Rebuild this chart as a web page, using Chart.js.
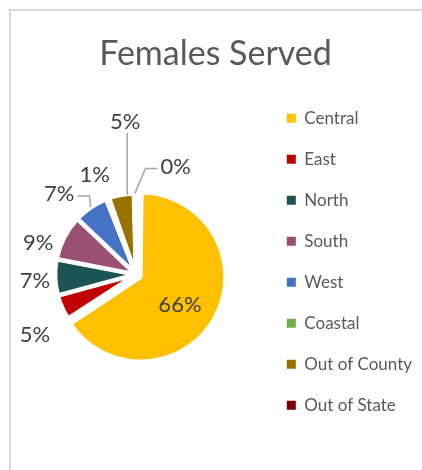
<!DOCTYPE html>
<html>
<head>
<meta charset="utf-8">
<script src="https://cdn.jsdelivr.net/npm/chart.js@4.4.1/dist/chart.umd.min.js"></script>
<style>
    body { margin: 0; background: #fff; }
    #wrap { position: relative; width: 422px; height: 470px; overflow: hidden; }
    #frame { position: absolute; left: 9px; top: 9px; width: 500px; height: 500px;
             border-top: 2px solid #d9d9d9; border-left: 2px solid #d9d9d9; }
    #females-served { position: absolute; left: 0; top: 0; }
</style>
</head>
<body>
<div id="wrap">
    <div id="frame"></div>
    <canvas id="females-served" width="422" height="470"></canvas>
</div>
<script>
// Share of females served by region (percent)
var regions = ['Central', 'East', 'North', 'South', 'West', 'Coastal', 'Out of County', 'Out of State'];
var shares = [65.8, 5.0, 7.2, 9.1, 6.9, 0.6, 5.0, 0.4];
var sliceColors = ['#ffc000', '#c00000', '#1a5454', '#9a5073', '#4472c4', '#70ad47', '#997300', '#7f0000'];

// label placement: nudge from the default spot just outside the slice, and leader side
var labelNudge = [[1, 7], [-7, 18], [2, 3], [-6, 16], [-19, 5], [-5, -3], [8, -51], [41, -5]];
var leaderSide = [null, null, null, null, 'right', null, 'bottom', 'left'];

var labelFont = '22px Lato';

var percentLabels = {
    id: 'percentLabels',
    afterDatasetsDraw: function (chart) {
        var ctx = chart.ctx;
        var meta = chart.getDatasetMeta(0);
        var data = chart.data.datasets[0].data;
        var total = data.reduce(function (a, b) { return a + b; }, 0);
        ctx.save();
        ctx.font = labelFont;
        ctx.textAlign = 'center';
        ctx.textBaseline = 'middle';
        meta.data.forEach(function (arc, i) {
            var mid = (arc.startAngle + arc.endAngle) / 2;
            var shift = (arc.options.offset || 0) / 4;
            var inside = i === 0;
            var dist = inside ? arc.outerRadius * 0.55 + shift : arc.outerRadius + 24;
            var lx = arc.x + Math.cos(mid) * dist + labelNudge[i][0];
            var ly = arc.y + Math.sin(mid) * dist + labelNudge[i][1];
            var text = Math.round(data[i] / total * 100) + '%';

            if (leaderSide[i]) {
                var tw = ctx.measureText(text).width;
                var ex = arc.x + Math.cos(mid) * (arc.outerRadius + shift + 1);
                var ey = arc.y + Math.sin(mid) * (arc.outerRadius + shift + 1);
                var ax, ay, kx, ky;
                if (leaderSide[i] === 'bottom') {
                    // straight drop from the label to the slice edge
                    ax = lx + 2; ay = ly + 11; kx = ax; ky = ay; ex = ax;
                } else if (leaderSide[i] === 'left') {
                    ax = lx - tw / 2 - 3; ay = ly + 2; kx = ax - 12; ky = ay;
                } else {
                    ax = lx + tw / 2 + 3; ay = ly + 2; kx = ax + 12; ky = ay;
                }
                ctx.strokeStyle = '#a6a6a6';
                ctx.lineWidth = 1.5;
                ctx.beginPath();
                ctx.moveTo(ax, ay);
                ctx.lineTo(kx, ky);
                ctx.lineTo(ex, ey);
                ctx.stroke();
            }
            ctx.fillStyle = '#404040';
            ctx.fillText(text, lx, ly);
        });
        ctx.restore();
    }
};

var ctx = document.getElementById('females-served').getContext('2d');
var chart = new Chart(ctx, {
    type: 'pie',
    data: {
        labels: regions,
        datasets: [{
            data: shares,
            backgroundColor: sliceColors,
            borderColor: '#ffffff',
            borderWidth: 4,
            offset: [22, 4, 4, 4, 4, 4, 4, 4]
        }]
    },
    options: {
        responsive: false,
        animation: false,
        radius: 79,
        layout: { padding: { left: 9, right: 0, top: 0, bottom: 7 } },
        plugins: {
            tooltip: { enabled: false },
            title: {
                display: true,
                text: 'Females Served',
                color: '#595959',
                font: { family: 'Lato', size: 34, weight: 'normal' },
                padding: { top: 34, bottom: 11 }
            },
            legend: {
                position: 'right',
                align: 'start',
                fullSize: false,
                labels: {
                    color: '#595959',
                    font: { family: 'Lato', size: 17 },
                    boxWidth: 9,
                    boxHeight: 9,
                    padding: 24,
                    generateLabels: function (chart) {
                        return Chart.overrides.doughnut.plugins.legend.labels.generateLabels(chart).map(function (item) {
                            item.lineWidth = 0;
                            return item;
                        });
                    }
                }
            }
        }
    },
    plugins: [percentLabels]
});
</script>
</body>
</html>
